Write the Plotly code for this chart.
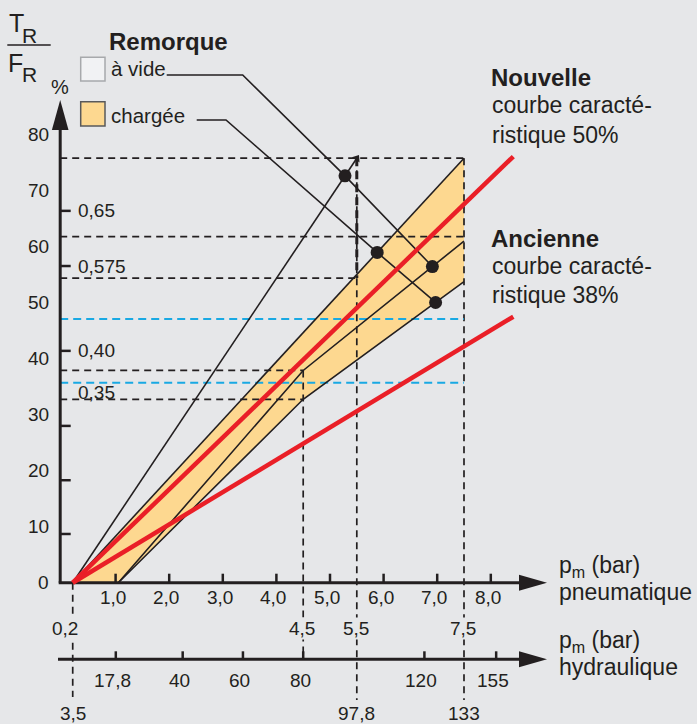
import numpy as np
import plotly.graph_objects as go

W, H = 697, 724
BG = '#e6e7e9'
INK = '#231f20'
RED = '#ea1f27'
CYAN = '#19a9e3'
ORANGE = '#fdd890'
FONT = 'Liberation Sans, Arial, sans-serif'

# ---------------- data (pneumatic pressure in bar, braking ratio in %) ----------------
band_upper_x = [0.2, 7.5]
band_upper_y = [0.0, 75.8]
avide_x = [0.2, 5.5]
avide_y = [0.0, 75.8]
middle_x = [1.05, 4.5, 7.5]
middle_y = [0.0, 37.9, 61.0]
lower_x = [1.05, 4.5, 7.5]
lower_y = [0.0, 32.75, 53.75]
nouvelle_x = [0.2, 8.42]
nouvelle_y = [0.0, 76.1]
ancienne_x = [0.2, 8.42]
ancienne_y = [0.0, 47.5]

dot_avide_x = [5.28, 6.91]     # on "à vide" line, on middle line
dot_charge_x = [5.88, 6.97]    # on band upper line, on band lower line

ref_h_y = [75.8, 61.8, 54.4, 37.9, 32.75]
ref_h_xend = [7.5, 7.5, 5.5, 4.5, 4.5]
ref_cyan_y = [47.1, 35.7]
ref_cyan_xend = [7.5, 7.5]
ref_v_x = [0.2, 4.5, 5.5, 7.5]
ref_v_ytop = [0.0, 37.9, 75.8, 75.8]
ref_v_labels = ['0,2', '4,5', '5,5', '7,5']

pct_ticks = [0, 10, 20, 30, 40, 50, 60, 70, 80]
pneu_ticks = [1, 2, 3, 4, 5, 6, 7, 8]
pneu_labels = ['1,0', '2,0', '3,0', '4,0', '5,0', '6,0', '7,0', '8,0']
hyd_ticks = [17.8, 40, 60, 80, 120, 155]
hyd_labels = ['17,8', '40', '60', '80', '120', '155']
hyd_ref_vals = [3.5, 97.8, 133]
hyd_ref_labels = ['3,5', '97,8', '133']
hyd_equiv_bar = [0.2, 4.5, 5.5, 7.5, 8.1]
hyd_equiv_val = [3.5, 80, 97.8, 133, 155]

ratio_scale_r = [0.1, 0.2, 0.3, 0.35, 0.40, 0.575, 0.65]
ratio_scale_pct = [8.7, 18.3, 28.0, 34.0, 41.4, 56.55, 66.4]
ratio_tick_r = [0.1, 0.2, 0.3, 0.40, 0.575, 0.65]
ratio_label_r = [0.35, 0.40, 0.575, 0.65]
ratio_label_text = ['0,35', '0,40', '0,575', '0,65']

# ---------------- pixel helpers (layout only) ----------------
X0, BARPX, Y0, PCTPX = 62.0, 53.6, 582.7, 5.6
def bx(px):
    return (px - X0) / BARPX
def by(pyv):
    return (Y0 - pyv) / PCTPX
def hyd2bar(v):
    return float(np.interp(v, hyd_equiv_val, hyd_equiv_bar))
def ratio2pct(r):
    return float(np.interp(r, ratio_scale_r, ratio_scale_pct))

AX_X = bx(60.2)
HY = by(659.3)
ARW_TIP = bx(547)
ARW_BASE = bx(519)

fig = go.Figure()

def seg_trace(xs, ys, color, width, dash='solid'):
    fig.add_trace(go.Scatter(x=xs, y=ys, mode='lines', hoverinfo='skip',
                             line=dict(color=color, width=width, dash=dash)))

# band fill
fig.add_trace(go.Scatter(x=band_upper_x + lower_x[::-1], y=band_upper_y + lower_y[::-1],
                         mode='lines', fill='toself', fillcolor=ORANGE,
                         line=dict(width=0), hoverinfo='skip'))

# dashed reference lines
xs, ys = [], []
for yv, xe in zip(ref_h_y, ref_h_xend):
    xs += [AX_X, xe, None]; ys += [yv, yv, None]
v_bottom_px = [697, 659.3, 700, 700]
for vx, yt, bp in zip(ref_v_x, ref_v_ytop, v_bottom_px):
    xs += [vx, vx, None]; ys += [yt, by(bp), None]
seg_trace(xs, ys, INK, 1.7, '7px,5px')
xs, ys = [], []
for yv, xe in zip(ref_cyan_y, ref_cyan_xend):
    xs += [AX_X, xe, None]; ys += [yv, yv, None]
seg_trace(xs, ys, CYAN, 2, '8px,5px')
seg_trace([5.5, 5.5], [ref_h_y[0], ref_h_y[2]], INK, 3, '8px,5px')

# black characteristic lines
for lx, ly in [(avide_x, avide_y), (band_upper_x, band_upper_y), (middle_x, middle_y), (lower_x, lower_y)]:
    seg_trace(lx, ly, INK, 1.6)

# dots
d1 = (dot_avide_x[0], float(np.interp(dot_avide_x[0], avide_x, avide_y)))
d3 = (dot_avide_x[1], float(np.interp(dot_avide_x[1], middle_x, middle_y)))
d2 = (dot_charge_x[0], float(np.interp(dot_charge_x[0], band_upper_x, band_upper_y)))
d4 = (dot_charge_x[1], float(np.interp(dot_charge_x[1], lower_x, lower_y)))

# leader lines
seg_trace([bx(166.7), bx(242.7), d1[0], d3[0]], [by(75), by(75), d1[1], d3[1]], INK, 1.6)
seg_trace([bx(196.7), bx(226), d2[0], d4[0]], [by(120), by(120), d2[1], d4[1]], INK, 1.6)

# axes
seg_trace([bx(58.7), ARW_BASE + 0.05], [0, 0], INK, 3)
seg_trace([bx(58), ARW_BASE + 0.05], [HY, HY], INK, 3)
seg_trace([AX_X, AX_X], [0, by(128)], INK, 3)
for tri_x, tri_y in [
    ([ARW_BASE, ARW_TIP, ARW_BASE, ARW_BASE], [8 / PCTPX, 0, -8 / PCTPX, 8 / PCTPX]),
    ([ARW_BASE, ARW_TIP, ARW_BASE, ARW_BASE], [HY + 8 / PCTPX, HY, HY - 8 / PCTPX, HY + 8 / PCTPX]),
    ([AX_X - 8.3 / BARPX, AX_X, AX_X + 8.3 / BARPX, AX_X - 8.3 / BARPX], [by(130), by(100), by(130), by(130)]),
]:
    fig.add_trace(go.Scatter(x=tri_x, y=tri_y, mode='lines', fill='toself', fillcolor=INK,
                             line=dict(width=0), hoverinfo='skip'))

# tick marks
xs, ys = [], []
for t in pneu_ticks:
    xs += [t, t, None]; ys += [0, 9 / PCTPX, None]
for h in hyd_ticks:
    xb = hyd2bar(h)
    xs += [xb, xb, None]; ys += [HY, HY + 8 / PCTPX, None]
for r in ratio_tick_r:
    yp = ratio2pct(r)
    xs += [AX_X, AX_X + 10.5 / BARPX, None]; ys += [yp, yp, None]
seg_trace(xs, ys, INK, 2.5)

# red curves
seg_trace(ancienne_x, ancienne_y, RED, 4.5)
seg_trace(nouvelle_x, nouvelle_y, RED, 4.5)

# dots and arrow tip
fig.add_trace(go.Scatter(x=[d1[0], d2[0], d3[0], d4[0]], y=[d1[1], d2[1], d3[1], d4[1]],
                         mode='markers', marker=dict(color=INK, size=13), hoverinfo='skip'))
fig.add_trace(go.Scatter(x=[avide_x[1]], y=[avide_y[1]], mode='markers', hoverinfo='skip',
                         marker=dict(symbol='triangle-up', color=INK, size=8, angle=33.7)))

# ---------------- annotations ----------------
ann = []
def txt(s, px, pyv, size, anchor='left', bold=False, color=INK, **kw):
    if bold:
        s = '<b>' + s + '</b>'
    ann.append(dict(text=s, x=px / W, y=1 - pyv / H, xref='paper', yref='paper',
                    xanchor=anchor, yanchor='middle', showarrow=False,
                    font=dict(family=FONT, size=size, color=color), **kw))

for v in pct_ticks:
    ann.append(dict(text=str(v), x=51 / W, xref='paper', y=v, yref='y', xanchor='right',
                    yanchor='middle', showarrow=False, font=dict(family=FONT, size=19, color=INK)))
for r, t in zip(ratio_label_r, ratio_label_text):
    ann.append(dict(text=t, x=76 / W, xref='paper', y=ratio2pct(r), yref='y', xanchor='left',
                    yanchor='middle', showarrow=False, font=dict(family=FONT, size=19, color=INK)))
for v, t in zip(pneu_ticks, pneu_labels):
    ann.append(dict(text=t, x=v, xref='x', y=1 - 597 / H, yref='paper', xanchor='center', xshift=-3,
                    yanchor='middle', showarrow=False, font=dict(family=FONT, size=19, color=INK)))
for i, (v, t) in enumerate(zip(ref_v_x, ref_v_labels)):
    ann.append(dict(text=t, x=v, xref='x', y=1 - 628 / H, yref='paper', xanchor='center',
                    xshift=-8 if i == 0 else -1, bgcolor=BG, borderpad=0,
                    yanchor='middle', showarrow=False, font=dict(family=FONT, size=19, color=INK)))
for v, t in zip(hyd_ticks, hyd_labels):
    ann.append(dict(text=t, x=hyd2bar(v), xref='x', y=1 - 680 / H, yref='paper', xanchor='center',
                    xshift=-3, yanchor='middle', showarrow=False, font=dict(family=FONT, size=19, color=INK)))
for v, t in zip(hyd_ref_vals, hyd_ref_labels):
    ann.append(dict(text=t, x=hyd2bar(v), xref='x', y=1 - 713 / H, yref='paper', xanchor='center',
                    yanchor='middle', showarrow=False, font=dict(family=FONT, size=19, color=INK)))

txt('Remorque', 107, 41, 24, bold=True)
txt('à vide', 109, 69, 20.5)
txt('chargée', 109, 115, 20.5)
txt('Nouvelle', 489, 77, 24, bold=True)
txt('courbe caracté-', 490, 105, 23)
txt('ristique 50%', 490, 135, 23)
txt('Ancienne', 489, 239, 24, bold=True)
txt('courbe caracté-', 490, 266, 23)
txt('ristique 38%', 490, 295, 23)
txt('p<sub>m</sub> (bar)', 557, 566, 23)
txt('pneumatique', 557, 592, 23)
txt('p<sub>m</sub> (bar)', 557, 641, 23)
txt('hydraulique', 557, 667, 23)
txt('%', 60, 87, 20, anchor='center')
txt('T', 16.5, 23.5, 25, anchor='center')
txt('R', 29.5, 35.5, 21, anchor='center')
txt('F', 15, 63.5, 25, anchor='center')
txt('R', 29.5, 75, 21, anchor='center')

shapes = [
    dict(type='line', xref='paper', yref='paper', x0=7.3 / W, x1=50.7 / W, y0=1 - 45 / H, y1=1 - 45 / H,
         line=dict(color=INK, width=1.5)),
    dict(type='rect', xref='paper', yref='paper', x0=80.7 / W, x1=105 / W, y0=1 - 81 / H, y1=1 - 57.3 / H,
         fillcolor='#f1f2f4', line=dict(color='#a7a9ac', width=1.5)),
    dict(type='rect', xref='paper', yref='paper', x0=80.7 / W, x1=105 / W, y0=1 - 126 / H, y1=1 - 101.7 / H,
         fillcolor=ORANGE, line=dict(color='#58595b', width=1.5)),
]

fig.update_layout(
    width=W, height=H, margin=dict(l=0, r=0, t=0, b=0),
    paper_bgcolor=BG, plot_bgcolor=BG, showlegend=False,
    xaxis=dict(range=[bx(0), bx(W)], visible=False, fixedrange=True),
    yaxis=dict(range=[by(H), by(0)], visible=False, fixedrange=True),
    annotations=ann, shapes=shapes,
)
fig.write_html('out.html', config={'displayModeBar': False},
               post_script="document.body.style.margin='0';document.body.style.overflow='hidden';"
                           "document.body.style.background='" + BG + "';")
